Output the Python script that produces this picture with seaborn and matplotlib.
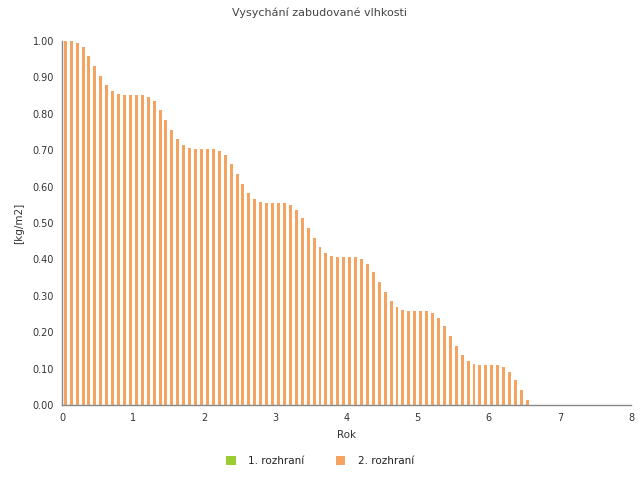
import numpy as np
import pandas as pd
import matplotlib
matplotlib.use("Agg")
import matplotlib.pyplot as plt
from matplotlib.patches import Patch
import seaborn as sns

# --- data -------------------------------------------------------------
title = "Vysychání zabudované vlhkosti"
x_label = "Rok"
y_label = "[kg/m2]"
series_names = ["1. rozhraní", "2. rozhraní"]
series_colors = ["#9ACD32", "#F4A460"]

months = list(range(79))
moisture_2 = [
    1.000, 1.000, 0.995, 0.984, 0.959, 0.931, 0.904, 0.879, 0.863, 0.854,
    0.852, 0.852, 0.852, 0.852, 0.846, 0.835, 0.810, 0.783, 0.756, 0.731,
    0.714, 0.706, 0.703, 0.703, 0.703, 0.703, 0.698, 0.687, 0.662, 0.635,
    0.607, 0.582, 0.566, 0.558, 0.555, 0.555, 0.555, 0.555, 0.550, 0.536,
    0.514, 0.486, 0.459, 0.434, 0.418, 0.409, 0.407, 0.407, 0.407, 0.407,
    0.401, 0.387, 0.365, 0.338, 0.310, 0.286, 0.269, 0.261, 0.258, 0.258,
    0.258, 0.258, 0.253, 0.239, 0.217, 0.190, 0.162, 0.137, 0.121, 0.113,
    0.110, 0.110, 0.110, 0.110, 0.104, 0.091, 0.069, 0.041, 0.014,
]
x_ticks = [0, 1, 2, 3, 4, 5, 6, 7, 8]
y_ticks = [0.0, 0.1, 0.2, 0.3, 0.4, 0.5, 0.6, 0.7, 0.8, 0.9, 1.0]

df = pd.DataFrame({"month": months, "value": moisture_2})
df["Rok"] = (df["month"] + 0.5) / 12.0

# --- plot -------------------------------------------------------------
sns.set_style("white")
plt.rcParams["font.family"] = ["DejaVu Sans"]

fig = plt.figure(figsize=(6.4, 4.8), dpi=100)
ax = fig.add_axes([62.3 / 640, 75 / 480, (631 - 62.3) / 640, (405 - 41) / 480])

sns.barplot(data=df, x="Rok", y="value", native_scale=True, width=0.5,
            color=series_colors[1], saturation=1, linewidth=0, ax=ax)

ax.set_xlim(0, 8)
ax.set_ylim(0, 1.0)
ax.set_xticks(x_ticks)
ax.set_xticklabels([str(t) for t in x_ticks])
ax.set_yticks(y_ticks)
ax.set_yticklabels([f"{t:.2f}" for t in y_ticks])

for s in ["top", "right"]:
    ax.spines[s].set_visible(False)
for s in ["left", "bottom"]:
    ax.spines[s].set_color("#888888")
    ax.spines[s].set_linewidth(1.0)
ax.tick_params(axis="both", direction="out", length=4, width=1,
               color="#888888", labelsize=7, labelcolor="#333333", pad=2)

ax.set_xlabel(x_label, fontsize=7.5, color="#333333", labelpad=5)
ax.set_ylabel(y_label, fontsize=7.5, color="#333333", labelpad=6)
fig.text(0.5, 1 - 13 / 480, title, ha="center", va="center",
         fontsize=8, color="#444444")

handles = [Patch(facecolor=c, edgecolor="none") for c in series_colors]
fig.legend(handles, series_names, loc="center", bbox_to_anchor=(0.5, 1 - 461 / 480),
           ncol=2, frameon=False, fontsize=7.5, handlelength=0.9, handleheight=0.9,
           columnspacing=3.0, handletextpad=1.2, labelcolor="#222222")

fig.savefig("out.png", dpi=100)
